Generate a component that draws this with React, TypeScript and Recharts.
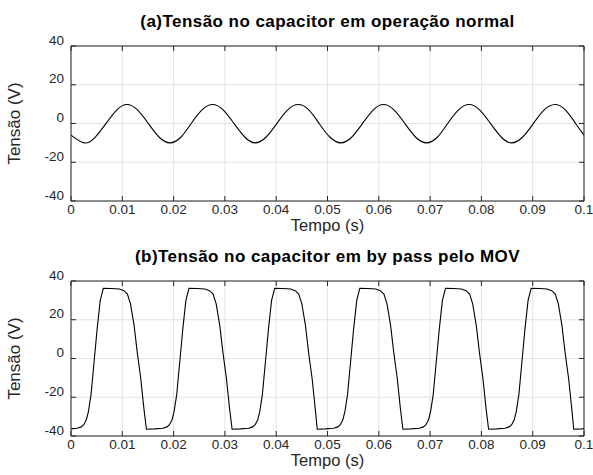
import React from 'react';
import { LineChart, Line, XAxis, YAxis, CartesianGrid } from 'recharts';

// eixos (comuns aos dois gráficos)
const xTicks = [0, 0.01, 0.02, 0.03, 0.04, 0.05, 0.06, 0.07, 0.08, 0.09, 0.1];
const xTickLabels = ['0', '0.01', '0.02', '0.03', '0.04', '0.05', '0.06', '0.07', '0.08', '0.09', '0.1'];
const yTicks = [-40, -20, 0, 20, 40];
const yTickLabels = ['-40', '-20', '0', '20', '40'];

// (a) operação normal
const normalT = [
  0, 0.0026, 0.0047, 0.0068, 0.0089, 0.0109, 0.013, 0.0151, 0.0172,
  0.0193, 0.0214, 0.0234, 0.0255, 0.0276, 0.0297, 0.0318, 0.0339,
  0.0359, 0.038, 0.0401, 0.0422, 0.0443, 0.0464, 0.0484, 0.0505,
  0.0526, 0.0547, 0.0568, 0.0589, 0.0609, 0.063, 0.0651, 0.0672,
  0.0693, 0.0714, 0.0734, 0.0755, 0.0776, 0.0797, 0.0818, 0.0839,
  0.0859, 0.088, 0.0901, 0.0922, 0.0943, 0.0964, 0.0984, 0.1,
];
const normalV = [
  -6.0, -10.0, -7.1, -0.1, 6.9, 9.8, 6.9, -0.1, -7.1,
  -10.0, -7.1, -0.1, 6.9, 9.8, 6.9, -0.1, -7.1,
  -10.0, -7.1, -0.1, 6.9, 9.8, 6.9, -0.1, -7.1,
  -10.0, -7.1, -0.1, 6.9, 9.8, 6.9, -0.1, -7.1,
  -10.0, -7.1, -0.1, 6.9, 9.8, 6.9, -0.1, -7.1,
  -10.0, -7.1, -0.1, 6.9, 9.8, 6.9, -0.1, -6.0,
];

// (b) by pass pelo MOV
const movT = [
  0, 0.0012, 0.002, 0.0025, 0.003, 0.0034, 0.0039, 0.0045, 0.0051, 0.0057, 0.0063,
  0.0079, 0.0094, 0.0103, 0.011, 0.0116, 0.0123, 0.0129, 0.0136, 0.0142, 0.0147,
  0.0163, 0.0179, 0.0187, 0.0192, 0.0197, 0.0201, 0.0206, 0.0212, 0.0218, 0.0224, 0.023,
  0.0246, 0.0261, 0.027, 0.0277, 0.0283, 0.029, 0.0296, 0.0303, 0.0309, 0.0314,
  0.033, 0.0346, 0.0354, 0.0359, 0.0364, 0.0368, 0.0373, 0.0379, 0.0385, 0.0391, 0.0397,
  0.0413, 0.0428, 0.0437, 0.0444, 0.045, 0.0457, 0.0463, 0.047, 0.0476, 0.048,
  0.0496, 0.0512, 0.052, 0.0525, 0.053, 0.0534, 0.0539, 0.0545, 0.0551, 0.0557, 0.0563,
  0.0579, 0.0594, 0.0603, 0.061, 0.0616, 0.0623, 0.0629, 0.0636, 0.0642, 0.0647,
  0.0663, 0.0679, 0.0687, 0.0692, 0.0697, 0.0701, 0.0706, 0.0712, 0.0718, 0.0724, 0.073,
  0.0746, 0.0761, 0.077, 0.0777, 0.0783, 0.079, 0.0796, 0.0803, 0.0809, 0.0814,
  0.083, 0.0846, 0.0854, 0.0859, 0.0864, 0.0868, 0.0873, 0.0879, 0.0885, 0.0891, 0.0897,
  0.0913, 0.0928, 0.0937, 0.0944, 0.095, 0.0957, 0.0963, 0.097, 0.0976, 0.098,
  0.0996, 0.1,
];
const movV = [
  -36.3, -36.0, -35.3, -34.2, -31.6, -27.3, -18.8, -1.7, 15.4, 30.0, 36.2,
  36.1, 35.9, 35.0, 33.3, 28.2, 17.1, 3.4, -10.3, -25.6, -36.5,
  -36.3, -36.0, -35.3, -34.2, -31.6, -27.3, -18.8, -1.7, 15.4, 30.0, 36.2,
  36.1, 35.9, 35.0, 33.3, 28.2, 17.1, 3.4, -10.3, -25.6, -36.5,
  -36.3, -36.0, -35.3, -34.2, -31.6, -27.3, -18.8, -1.7, 15.4, 30.0, 36.2,
  36.1, 35.9, 35.0, 33.3, 28.2, 17.1, 3.4, -10.3, -25.6, -36.5,
  -36.3, -36.0, -35.3, -34.2, -31.6, -27.3, -18.8, -1.7, 15.4, 30.0, 36.2,
  36.1, 35.9, 35.0, 33.3, 28.2, 17.1, 3.4, -10.3, -25.6, -36.5,
  -36.3, -36.0, -35.3, -34.2, -31.6, -27.3, -18.8, -1.7, 15.4, 30.0, 36.2,
  36.1, 35.9, 35.0, 33.3, 28.2, 17.1, 3.4, -10.3, -25.6, -36.5,
  -36.3, -36.0, -35.3, -34.2, -31.6, -27.3, -18.8, -1.7, 15.4, 30.0, 36.2,
  36.1, 35.9, 35.0, 33.3, 28.2, 17.1, 3.4, -10.3, -25.6, -36.5,
  -36.3, -36.2,
];

const FONT = 'Arial, "Liberation Sans", Helvetica, sans-serif';
const INK = '#262626';
const GRID = '#e3e3e3';

const W = 593;
const PANEL_H = 230;
const PLOT_L = 71;
const PLOT_R = 584;
const PLOT_TOP = 46; // dentro de cada painel
const PLOT_H = 155;
const X_AXIS_H = PANEL_H - PLOT_TOP - PLOT_H;
const Y_AXIS_W = 40;

const XTick: React.FC<any> = ({ x, y, index }) => (
  <text x={x} y={y + 12.5} textAnchor="middle" fill={INK} fontSize={13.5} fontFamily={FONT}>
    {xTickLabels[index]}
  </text>
);

const YTick: React.FC<any> = ({ x, y, index }) => (
  <text x={x - 7} y={y - 1.5} textAnchor="end" fill={INK} fontSize={13.5} fontFamily={FONT}>
    {yTickLabels[index]}
  </text>
);

// eixos do topo e da direita: só os traços, sem rótulo
const NoLabel = () => <g />;

const Panel: React.FC<{ t: number[]; v: number[]; curve: 'natural' | 'linear' }> = ({ t, v, curve }) => {
  const data = t.map((tt, i) => ({ t: tt, v: v[i] }));
  return (
    <LineChart
      width={W}
      height={PANEL_H}
      data={data}
      margin={{ top: PLOT_TOP - 1, right: W - PLOT_R - 1, bottom: 0, left: PLOT_L - Y_AXIS_W }}
    >
      <CartesianGrid stroke={GRID} strokeWidth={1} />
      <XAxis
        dataKey="t"
        type="number"
        domain={[0, 0.1]}
        ticks={xTicks}
        interval={0}
        allowDataOverflow
        height={X_AXIS_H}
        tickSize={-5}
        tickMargin={5}
        tick={<XTick />}
        axisLine={{ stroke: INK }}
        tickLine={{ stroke: INK }}
      />
      <XAxis
        xAxisId="top"
        dataKey="t"
        orientation="top"
        type="number"
        domain={[0, 0.1]}
        ticks={xTicks}
        interval={0}
        allowDataOverflow
        height={1}
        tickSize={-5}
        tick={<NoLabel />}
        axisLine={{ stroke: INK }}
        tickLine={{ stroke: INK }}
      />
      <YAxis
        type="number"
        domain={[-40, 40]}
        ticks={yTicks}
        interval={0}
        allowDataOverflow
        width={Y_AXIS_W}
        tickSize={-5}
        tickMargin={5}
        tick={<YTick />}
        axisLine={{ stroke: INK }}
        tickLine={{ stroke: INK }}
      />
      <YAxis
        yAxisId="right"
        orientation="right"
        type="number"
        domain={[-40, 40]}
        ticks={yTicks}
        interval={0}
        allowDataOverflow
        width={1}
        tickSize={-5}
        tick={<NoLabel />}
        axisLine={{ stroke: INK }}
        tickLine={{ stroke: INK }}
      />
      <Line
        type={curve}
        dataKey="v"
        stroke="#000"
        strokeWidth={1.1}
        dot={false}
        isAnimationActive={false}
      />
    </LineChart>
  );
};

const PANEL_B_TOP = 235;
const midX = (PLOT_L + PLOT_R) / 2;

export default function App() {
  return (
    <div style={{ position: 'absolute', left: 0, top: 0, width: W, height: 475, background: '#fff' }}>
      <div style={{ position: 'absolute', left: 0, top: 0 }}>
        <Panel t={normalT} v={normalV} curve="natural" />
      </div>
      <div style={{ position: 'absolute', left: 0, top: PANEL_B_TOP }}>
        <Panel t={movT} v={movV} curve="linear" />
      </div>
      <svg
        width={W}
        height={475}
        style={{ position: 'absolute', left: 0, top: 0, pointerEvents: 'none' }}
        fontFamily={FONT}
        fill={INK}
      >
        <text x={midX} y={26.5} textAnchor="middle" fontSize={17} fontWeight="bold" letterSpacing={0.45} fill="#000">
          (a)Tensão no capacitor em operação normal
        </text>
        <text x={midX} y={230.5} textAnchor="middle" fontSize={16.5}>
          Tempo (s)
        </text>
        <text transform={`translate(20, ${PLOT_TOP + PLOT_H / 2}) rotate(-90)`} textAnchor="middle" fontSize={17}>
          Tensão (V)
        </text>

        <text x={midX} y={PANEL_B_TOP + 26.5} textAnchor="middle" fontSize={17} fontWeight="bold" letterSpacing={0.45} fill="#000">
          (b)Tensão no capacitor em by pass pelo MOV
        </text>
        <text x={midX} y={PANEL_B_TOP + 230.5} textAnchor="middle" fontSize={16.5}>
          Tempo (s)
        </text>
        <text
          transform={`translate(20, ${PANEL_B_TOP + PLOT_TOP + PLOT_H / 2}) rotate(-90)`}
          textAnchor="middle"
          fontSize={17}
        >
          Tensão (V)
        </text>
      </svg>
    </div>
  );
}
